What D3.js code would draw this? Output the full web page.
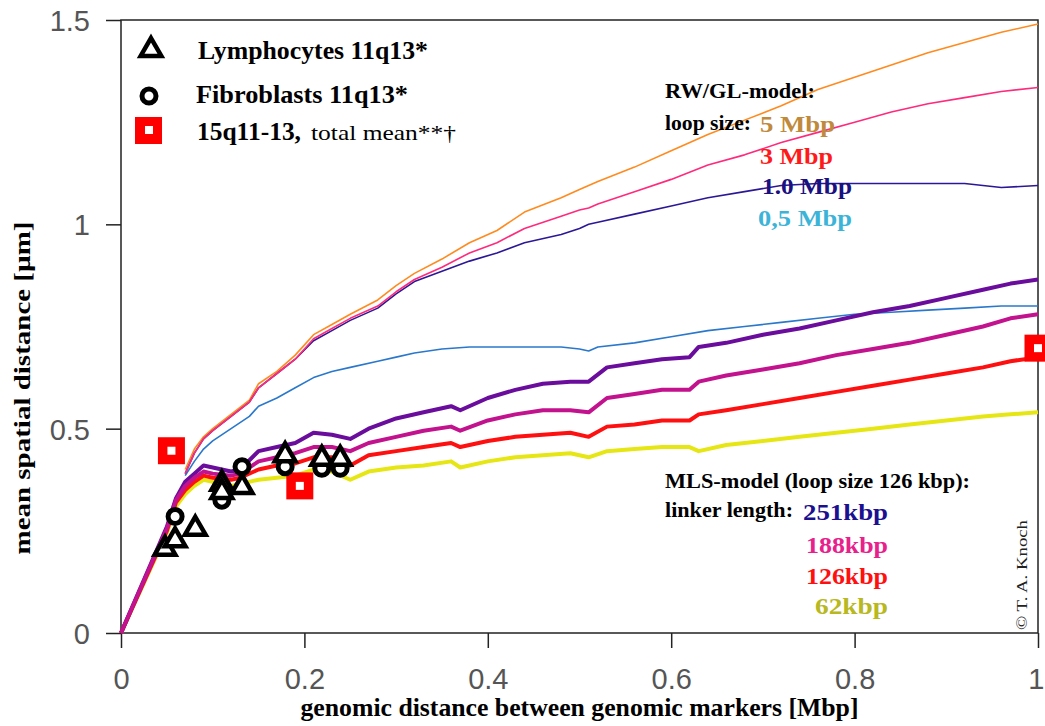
<!DOCTYPE html>
<html>
<head>
<meta charset="utf-8">
<script src="https://cdn.jsdelivr.net/npm/d3@7"></script>
<style>
  body { margin: 0; background: #fff; }
  .tick-label { font-family: "Liberation Sans", Arial, sans-serif; font-size: 29px; fill: #555; }
  .serif { font-family: "Liberation Serif", "Times New Roman", serif; font-weight: bold; }
</style>
</head>
<body>
<div id="chart"></div>
<script>
// RW/GL-model curves (thin lines), shared x grid [Mbp]
var xsRW = [0.07, 0.08, 0.09, 0.10, 0.12, 0.14, 0.15, 0.17, 0.19, 0.21, 0.23, 0.25, 0.28, 0.30, 0.32, 0.35, 0.38,
            0.41, 0.44, 0.48, 0.50, 0.51, 0.52, 0.56, 0.60, 0.64, 0.68, 0.72, 0.76, 0.80, 0.84, 0.88, 0.92, 0.96, 1.0];
var rw5  = [0.40, 0.45, 0.48, 0.50, 0.535, 0.57, 0.61, 0.64, 0.68, 0.73, 0.755, 0.78, 0.815, 0.85, 0.88, 0.915, 0.955,
            0.985, 1.03, 1.065, 1.085, 1.095, 1.105, 1.14, 1.18, 1.22, 1.255, 1.29, 1.33, 1.36, 1.39, 1.42, 1.445, 1.47, 1.49];
var rw3  = [0.39, 0.44, 0.475, 0.495, 0.53, 0.565, 0.60, 0.635, 0.67, 0.72, 0.745, 0.77, 0.80, 0.835, 0.865, 0.895, 0.93,
            0.955, 0.99, 1.02, 1.035, 1.04, 1.05, 1.08, 1.11, 1.145, 1.17, 1.20, 1.225, 1.25, 1.275, 1.295, 1.31, 1.325, 1.335];
var rw1  = [0.39, 0.44, 0.475, 0.495, 0.53, 0.565, 0.60, 0.635, 0.67, 0.715, 0.74, 0.765, 0.795, 0.83, 0.86, 0.885, 0.91,
            0.93, 0.955, 0.975, 0.99, 1.0, 1.005, 1.025, 1.045, 1.065, 1.08, 1.095, 1.10, 1.10, 1.10, 1.10, 1.10, 1.09, 1.095];
var rw05 = [0.385, 0.42, 0.45, 0.47, 0.50, 0.53, 0.555, 0.575, 0.60, 0.625, 0.64, 0.65, 0.665, 0.675, 0.685, 0.695, 0.70,
            0.70, 0.70, 0.70, 0.695, 0.69, 0.70, 0.71, 0.725, 0.74, 0.75, 0.76, 0.77, 0.78, 0.785, 0.79, 0.795, 0.80, 0.80];

// MLS-model curves (thick lines), shared x grid [Mbp]
var xsMLS = [0, 0.05, 0.06, 0.07, 0.08, 0.09, 0.10, 0.12, 0.13, 0.15, 0.17, 0.19, 0.21, 0.23, 0.25, 0.27, 0.30, 0.33, 0.36, 0.37,
             0.40, 0.43, 0.46, 0.49, 0.51, 0.53, 0.56, 0.59, 0.62, 0.63, 0.66, 0.70, 0.74, 0.78, 0.82, 0.86, 0.90, 0.94, 0.97, 1.0];
var mls251 = [0, 0.26, 0.33, 0.37, 0.39, 0.41, 0.405, 0.395, 0.40, 0.445, 0.455, 0.465, 0.49, 0.485, 0.475, 0.50, 0.525, 0.54, 0.555, 0.545,
              0.575, 0.595, 0.61, 0.615, 0.615, 0.65, 0.66, 0.67, 0.675, 0.70, 0.71, 0.73, 0.745, 0.765, 0.785, 0.80, 0.82, 0.84, 0.855, 0.865];
var mls188 = [0, 0.255, 0.325, 0.36, 0.38, 0.395, 0.39, 0.385, 0.39, 0.42, 0.43, 0.44, 0.455, 0.455, 0.445, 0.465, 0.48, 0.495, 0.505, 0.495,
              0.52, 0.535, 0.545, 0.545, 0.54, 0.575, 0.585, 0.595, 0.595, 0.615, 0.63, 0.645, 0.66, 0.68, 0.695, 0.71, 0.73, 0.75, 0.77, 0.78];
var mls126 = [0, 0.25, 0.32, 0.35, 0.37, 0.385, 0.38, 0.375, 0.38, 0.40, 0.41, 0.415, 0.43, 0.43, 0.41, 0.435, 0.445, 0.455, 0.465, 0.455,
              0.47, 0.48, 0.485, 0.49, 0.48, 0.505, 0.51, 0.52, 0.52, 0.535, 0.545, 0.56, 0.575, 0.59, 0.605, 0.62, 0.635, 0.65, 0.665, 0.675];
var mls62  = [0, 0.245, 0.31, 0.34, 0.36, 0.375, 0.37, 0.36, 0.365, 0.375, 0.38, 0.385, 0.40, 0.395, 0.375, 0.395, 0.405, 0.41, 0.42, 0.405,
              0.42, 0.43, 0.435, 0.44, 0.43, 0.445, 0.45, 0.455, 0.455, 0.445, 0.46, 0.47, 0.48, 0.49, 0.50, 0.51, 0.52, 0.53, 0.535, 0.54];

// measured points
var lymphoX = [0.048, 0.059, 0.081, 0.110, 0.110, 0.132, 0.179, 0.219, 0.239];
var lymphoY = [0.211, 0.232, 0.260, 0.370, 0.350, 0.362, 0.440, 0.431, 0.431];
var fibroX  = [0.059, 0.110, 0.132, 0.179, 0.219, 0.239];
var fibroY  = [0.285, 0.325, 0.407, 0.407, 0.403, 0.403];
var q15X    = [0.055, 0.195, 1.0];
var q15Y    = [0.446, 0.360, 0.697];

var xTicks = [0, 0.2, 0.4, 0.6, 0.8, 1];
var yTicks = [0, 0.5, 1, 1.5];

var margin = {top: 20, right: 7, bottom: 93, left: 121},
    width = 1045 - margin.left - margin.right,
    height = 726 - margin.top - margin.bottom;

var svg = d3.select("#chart").append("svg")
    .attr("width", 1045)
    .attr("height", 726)
  .append("g")
    .attr("transform", "translate(" + margin.left + "," + margin.top + ")");

var x = d3.scaleLinear().domain([0, 1]).range([0, width]);
var y = d3.scaleLinear().domain([0, 1.5]).range([height, 0]);

// frame
svg.append("rect")
    .attr("width", width)
    .attr("height", height)
    .style("fill", "none")
    .style("stroke", "#222")
    .style("stroke-width", "1.5px");

// x axis
var xAxis = svg.append("g")
    .attr("transform", "translate(0," + height + ")")
    .call(d3.axisBottom(x).tickValues(xTicks).tickSize(15).tickPadding(13).tickFormat(d3.format("")));
// y axis
var yAxis = svg.append("g")
    .call(d3.axisLeft(y).tickValues(yTicks).tickSize(15).tickPadding(16).tickFormat(d3.format("")));

[xAxis, yAxis].forEach(function(a) {
    a.select(".domain").remove();
    a.selectAll("line").style("stroke", "#222").style("stroke-width", "1.5px");
    a.selectAll("text").attr("class", "tick-label").attr("font-family", null).attr("font-size", null);
});
xAxis.selectAll("text").attr("dy", "0.95em");
// last x label sits on the window edge, keep it inside
xAxis.selectAll("text").filter(function(d) { return d === 1; })
    .attr("text-anchor", "end").attr("x", 6);
yAxis.selectAll("text").attr("dy", "0.36em");

// axis titles
svg.append("text")
    .attr("class", "serif")
    .attr("x", width / 2)
    .attr("y", height + 83)
    .attr("text-anchor", "middle")
    .attr("textLength", 558)
    .attr("lengthAdjust", "spacingAndGlyphs")
    .style("font-size", "25px")
    .text("genomic distance between genomic markers [Mbp]");

svg.append("text")
    .attr("class", "serif")
    .attr("transform", "rotate(-90)")
    .attr("x", -(388 - margin.top))
    .attr("y", -margin.left + 30)
    .attr("text-anchor", "middle")
    .attr("textLength", 333)
    .attr("lengthAdjust", "spacingAndGlyphs")
    .style("font-size", "24px")
    .text("mean spatial distance [\u00b5m]");

function drawLine(xs, ys, color, w) {
    var pts = xs.map(function(d, i) { return [d, ys[i]]; });
    svg.append("path")
        .datum(pts)
        .attr("d", d3.line().x(function(d) { return x(d[0]); }).y(function(d) { return y(d[1]); }))
        .style("fill", "none")
        .style("stroke", color)
        .style("stroke-width", w + "px")
        .style("stroke-linejoin", "round");
}

drawLine(xsRW, rw05, "#2a78cc", 1.6);
drawLine(xsRW, rw5, "#ff8a1e", 1.6);
drawLine(xsRW, rw1, "#2c1896", 1.6);
drawLine(xsRW, rw3, "#ff2a7c", 1.6);

drawLine(xsMLS, mls62, "#e6e614", 4);
drawLine(xsMLS, mls126, "#ff1010", 4);
drawLine(xsMLS, mls251, "#6a0c9c", 4);
drawLine(xsMLS, mls188, "#c2128e", 4);

// markers
var tri = d3.symbol().type(d3.symbolTriangle).size(185);

svg.selectAll(".q15")
    .data(q15X)
  .enter().append("rect")
    .attr("class", "q15")
    .attr("x", function(d) { return x(d) - 13.5; })
    .attr("y", function(d, i) { return y(q15Y[i]) - 13.5; })
    .attr("width", 27)
    .attr("height", 27)
    .style("fill", "#ff0000");
svg.selectAll(".q15in")
    .data(q15X)
  .enter().append("rect")
    .attr("class", "q15in")
    .attr("x", function(d) { return x(d) - 4; })
    .attr("y", function(d, i) { return y(q15Y[i]) - 4; })
    .attr("width", 8)
    .attr("height", 8)
    .style("fill", "#fff");

svg.selectAll(".fibro")
    .data(fibroX)
  .enter().append("circle")
    .attr("class", "fibro")
    .attr("cx", function(d) { return x(d); })
    .attr("cy", function(d, i) { return y(fibroY[i]); })
    .attr("r", 7)
    .style("fill", "#fff")
    .style("stroke", "#000")
    .style("stroke-width", "5px");

svg.selectAll(".lympho")
    .data(lymphoX)
  .enter().append("path")
    .attr("class", "lympho")
    .attr("d", tri)
    .attr("transform", function(d, i) { return "translate(" + x(d) + "," + (y(lymphoY[i]) + 2) + ")"; })
    .style("fill", "#fff")
    .style("stroke", "#000")
    .style("stroke-width", "4.5px")
    .style("stroke-linejoin", "miter");

// legend
var legend = svg.append("g").attr("transform", "translate(" + (-margin.left) + "," + (-margin.top) + ")");
legend.append("path")
    .attr("d", tri)
    .attr("transform", "translate(151,50)")
    .style("fill", "#fff").style("stroke", "#000").style("stroke-width", "4.5px");
legend.append("circle")
    .attr("cx", 149).attr("cy", 96).attr("r", 7)
    .style("fill", "#fff").style("stroke", "#000").style("stroke-width", "5px");
legend.append("rect")
    .attr("x", 135).attr("y", 117).attr("width", 27).attr("height", 27)
    .style("fill", "#ff0000");
legend.append("rect")
    .attr("x", 145).attr("y", 126).attr("width", 8).attr("height", 8)
    .style("fill", "#fff");

function annText(tx, ty, str, color, size, len) {
    return legend.append("text").attr("class", "serif")
        .attr("x", tx).attr("y", ty)
        .attr("textLength", len)
        .attr("lengthAdjust", "spacingAndGlyphs")
        .style("font-size", size + "px")
        .style("fill", color)
        .text(str);
}

annText(198, 59, "Lymphocytes 11q13*", "#000", 25, 230);
annText(196, 103, "Fibroblasts 11q13*", "#000", 25, 212);
annText(197, 140, "15q11-13,", "#000", 25, 104);
annText(311, 140, "total mean**\u2020", "#000", 22, 145).style("font-weight", "normal");

// RW/GL annotation
annText(665, 98, "RW/GL-model:", "#000", 21, 150);
annText(665, 130, "loop size:", "#000", 21, 86);
annText(760, 132, "5 Mbp", "#c08a3c", 23, 75);
annText(760, 164, "3 Mbp", "#ff1a1a", 23, 73);
annText(762, 194, "1.0 Mbp", "#1a1080", 23, 90);
annText(758, 226, "0,5 Mbp", "#3cb4d8", 23, 94);

// MLS annotation
annText(665, 488, "MLS-model (loop size 126 kbp):", "#000", 21, 305);
annText(665, 517, "linker length:", "#000", 21, 128);
annText(803, 520, "251kbp", "#1a1090", 23, 85);
annText(806, 553, "188kbp", "#e8208c", 23, 82);
annText(806, 584, "126kbp", "#ff1010", 23, 82);
annText(815, 614, "62kbp", "#b8b820", 23, 73);

// copyright
legend.append("text")
    .attr("transform", "translate(1027,630) rotate(-90)")
    .attr("textLength", 110)
    .attr("lengthAdjust", "spacingAndGlyphs")
    .style("font-family", "'Liberation Serif', serif")
    .style("font-size", "14px")
    .style("fill", "#222")
    .text("\u00a9 T. A. Knoch");
</script>
</body>
</html>
